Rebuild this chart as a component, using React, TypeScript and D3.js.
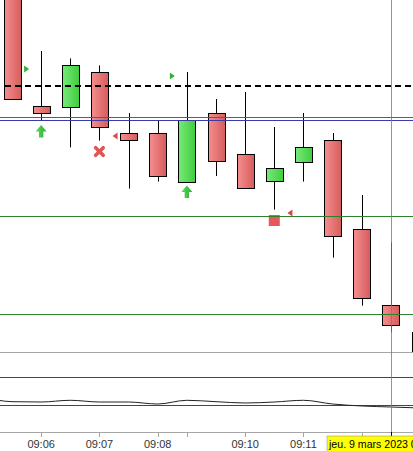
import React from "react";
import * as d3 from "d3";

const W = 413;
const H = 451;

// candle data (index-based, prices)
const opens = [15745, 15686.8, 15686.7, 15703.8, 15673.3, 15673.3, 15649.2, 15683.5, 15662.8, 15649.3, 15659.2, 15669.8, 15625.3, 15587.3, 15573.8];
const highs = [15746, 15714.5, 15710.8, 15707.3, 15683.5, 15679.7, 15704.0, 15690.5, 15694.0, 15676.5, 15683.5, 15673.5, 15642.5, 15618.8, 15574.0];
const lows = [15690.3, 15680.0, 15666.3, 15669.7, 15645.7, 15649.2, 15649.2, 15652.0, 15645.8, 15635.2, 15649.2, 15611.2, 15587.2, 15573.8, 15550.0];
const closes = [15690.3, 15683.3, 15707.3, 15676.3, 15669.8, 15652.2, 15679.8, 15659.3, 15645.8, 15655.8, 15666.3, 15621.8, 15590.8, 15577.3, 15555.0];

// horizontal levels
const dashedLevel = 15697;
const greenLevels = [15681.3, 15632, 15583];
const blueLevels = [15679.8];

// markers
const markerIdx = [1, 1, 3, 4, 6, 6, 9, 10];
const markerPrice = [15705.5, 15677.5, 15664.25, 15672, 15702, 15647.2, 15629.75, 15633.5];
const markerType = ["rightTri", "upArrow", "cross", "leftTri", "rightTri", "upArrow", "square", "leftTri"];

// oscillator (index -1 .. 14)
const oscStart = -1;
const oscValues = [37, 27.1, 26.4, 30.1, 26.4, 26.4, 22.1, 30.1, 27.1, 24.3, 26.4, 30.1, 22.1, 17.9, 15.7, 13.6];
const oscLevels = [80, 20];

// time axis
const tickIdx = [1, 3, 5, 6, 8, 10, 12, 13];
const tickLabels = ["09:06", "09:07", "09:08", "", "09:10", "09:11", "", ""];
const crosshairIdx = 13;
const crosshairLabel = "jeu. 9 mars 2023 09:13";

export default function App() {
  const x = d3.scaleLinear().domain([0, 14]).range([12, 420]);
  const y = d3.scaleLinear().domain([15740, 15564]).range([0, 352]);
  const yo = d3.scaleLinear().domain([80, 20]).range([377, 405]);
  const bodyW = 17;

  const oscLine = d3
    .line<number>()
    .x((_, i) => x(i + oscStart))
    .y((v) => yo(v))
    .curve(d3.curveMonotoneX)(oscValues) as string;

  const font = "'Liberation Sans', Arial, sans-serif";

  const renderMarker = (k: number) => {
    const cx = x(markerIdx[k]);
    const cy = y(markerPrice[k]);
    const t = markerType[k];
    if (t === "rightTri") {
      const tip = cx - 12;
      return <path key={k} d={`M${tip},${cy} L${tip - 5},${cy - 3.5} L${tip - 5},${cy + 3.5} Z`} fill="#35b035" />;
    }
    if (t === "leftTri") {
      const tip = cx - 16;
      return <path key={k} d={`M${tip},${cy} L${tip + 5},${cy - 3.5} L${tip + 5},${cy + 3.5} Z`} fill="#d84848" />;
    }
    if (t === "upArrow") {
      const top = cy;
      return (
        <path
          key={k}
          d={`M${cx},${top} L${cx + 5.5},${top + 6.5} L${cx + 2.2},${top + 6.5} L${cx + 2.2},${top + 12.5} L${cx - 2.2},${top + 12.5} L${cx - 2.2},${top + 6.5} L${cx - 5.5},${top + 6.5} Z`}
          fill="url(#arrowGrad)"
        />
      );
    }
    if (t === "cross") {
      return (
        <g key={k} stroke="#e05555" strokeWidth={3.6} strokeLinecap="round">
          <line x1={cx - 3.8} y1={cy - 3.8} x2={cx + 3.8} y2={cy + 3.8} />
          <line x1={cx - 3.8} y1={cy + 3.8} x2={cx + 3.8} y2={cy - 3.8} />
        </g>
      );
    }
    return <rect key={k} x={cx - 5.5} y={cy - 5.5} width={11} height={11} fill="#e85858" />;
  };

  return (
    <svg width={W} height={H} style={{ position: "absolute", left: 0, top: 0, background: "#fff" }}>
      <defs>
        <linearGradient id="redGrad" x1="0" x2="1" y1="0" y2="0">
          <stop offset="0" stopColor="#f48e8e" />
          <stop offset="1" stopColor="#d65c5c" />
        </linearGradient>
        <linearGradient id="greenGrad" x1="0" x2="1" y1="0" y2="0">
          <stop offset="0" stopColor="#78ea78" />
          <stop offset="1" stopColor="#40cc40" />
        </linearGradient>
        <linearGradient id="arrowGrad" x1="0" x2="1" y1="0" y2="0">
          <stop offset="0" stopColor="#5ad85a" />
          <stop offset="1" stopColor="#2fb02f" />
        </linearGradient>
        <clipPath id="mainClip">
          <rect x={0} y={0} width={W} height={352} />
        </clipPath>
        <clipPath id="oscClip">
          <rect x={0} y={352} width={W} height={80} />
        </clipPath>
      </defs>

      <g clipPath="url(#mainClip)">
        {opens.map((o, i) => {
          const c = closes[i];
          const up = c > o;
          const cx = x(i);
          const yTop = y(Math.max(o, c));
          const yBot = y(Math.min(o, c));
          return (
            <g key={i}>
              <line x1={Math.round(cx) + 0.5} x2={Math.round(cx) + 0.5} y1={y(highs[i])} y2={y(lows[i])} stroke="#000" strokeWidth={1} />
              <rect
                x={Math.round(cx - bodyW / 2) + 0.5}
                y={Math.round(yTop) + 0.5}
                width={bodyW}
                height={Math.max(1, Math.round(yBot) - Math.round(yTop))}
                fill={up ? "url(#greenGrad)" : "url(#redGrad)"}
                stroke="#000"
                strokeWidth={1}
              />
            </g>
          );
        })}
        {markerIdx.map((_, k) => renderMarker(k))}
        <line x1={5} x2={W} y1={Math.round(y(dashedLevel))} y2={Math.round(y(dashedLevel))} stroke="#000" strokeWidth={2} strokeDasharray="6,4" />
        {greenLevels.map((p, i) => (
          <line key={"g" + i} x1={0} x2={W} y1={Math.round(y(p)) + 0.5} y2={Math.round(y(p)) + 0.5} stroke="#2e7f2e" strokeWidth={1} />
        ))}
        {blueLevels.map((p, i) => (
          <line key={"b" + i} x1={0} x2={W} y1={Math.round(y(p)) + 0.5} y2={Math.round(y(p)) + 0.5} stroke="#3a3aa8" strokeWidth={1} />
        ))}
      </g>

      <line x1={0} x2={W} y1={352.5} y2={352.5} stroke="#a6a6a6" strokeWidth={1} />

      <g clipPath="url(#oscClip)">
        {oscLevels.map((v, i) => (
          <line key={"o" + i} x1={0} x2={W} y1={Math.round(yo(v)) + 0.5} y2={Math.round(yo(v)) + 0.5} stroke="#3a3a98" strokeWidth={1} />
        ))}
        <path d={oscLine} fill="none" stroke="#222" strokeWidth={1} />
      </g>

      <line x1={0} x2={W} y1={432.5} y2={432.5} stroke="#a6a6a6" strokeWidth={1} />
      {tickIdx.map((ti, k) => (
        <g key={"t" + k}>
          <line x1={Math.round(x(ti)) + 0.5} x2={Math.round(x(ti)) + 0.5} y1={432} y2={437} stroke="#a6a6a6" />
          {tickLabels[k] && (
            <text x={x(ti)} y={448} textAnchor="middle" fontFamily={font} fontSize={11} fill="#333">
              {tickLabels[k]}
            </text>
          )}
        </g>
      ))}

      <line x1={Math.round(x(crosshairIdx)) + 0.5} x2={Math.round(x(crosshairIdx)) + 0.5} y1={0} y2={437} stroke="#6f6fc4" strokeOpacity={0.8} strokeWidth={1} />
      <line x1={Math.round(x(crosshairIdx)) + 0.5} x2={Math.round(x(crosshairIdx)) + 0.5} y1={432} y2={437} stroke="#000" />

      <rect x={327} y={436} width={120} height={20} fill="#ffff00" stroke="#888" strokeWidth={0.5} />
      <text x={329} y={448} fontFamily={font} fontSize={10.6} fill="#000">
        {crosshairLabel}
      </text>
    </svg>
  );
}
